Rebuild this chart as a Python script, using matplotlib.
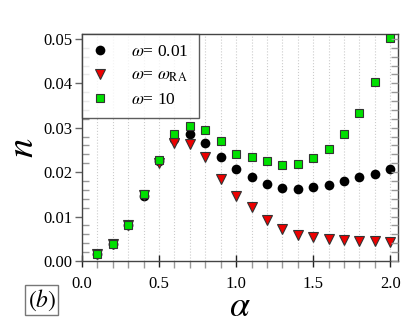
import numpy as np
import matplotlib
matplotlib.use("Agg")
import matplotlib.pyplot as plt
from matplotlib.ticker import MultipleLocator, FormatStrFormatter

plt.rcParams['font.family'] = ['Liberation Serif', 'DejaVu Serif']
plt.rcParams['mathtext.fontset'] = 'stix'

alpha = [0.1, 0.2, 0.3, 0.4, 0.5, 0.6, 0.7, 0.8, 0.9, 1.0,
         1.1, 1.2, 1.3, 1.4, 1.5, 1.6, 1.7, 1.8, 1.9, 2.0]
n_w001 = [0.0015, 0.0039, 0.0081, 0.0146, 0.0225, 0.0274, 0.0286, 0.0266, 0.0234, 0.0206,
          0.0190, 0.0173, 0.0165, 0.0163, 0.0166, 0.0171, 0.0179, 0.0189, 0.0196, 0.0207]
n_wRA = [0.0015, 0.0039, 0.0081, 0.0148, 0.0220, 0.0265, 0.0264, 0.0233, 0.0185, 0.0146,
         0.0122, 0.0092, 0.0072, 0.0059, 0.0053, 0.0049, 0.0047, 0.0044, 0.0044, 0.0043]
n_w10 = [0.0015, 0.0039, 0.0081, 0.0150, 0.0228, 0.0286, 0.0304, 0.0296, 0.0270, 0.0241,
         0.0234, 0.0224, 0.0215, 0.0219, 0.0232, 0.0253, 0.0287, 0.0334, 0.0403, 0.0501]
labels = [r'$\omega$= 0.01', r'$\omega$= $\omega_{\rm RA}$', r'$\omega$= 10']

fig = plt.figure(figsize=(4.15, 3.26), dpi=100)
ax = fig.add_axes([0.1976, 0.1994, 0.959 - 0.1976, 0.8957 - 0.1994])

ax.set_xlim(0, 2.05)
ax.set_ylim(0, 0.0511)

ax.plot(alpha, n_w001, 'o', color='black', markersize=7, markeredgewidth=0, label=labels[0], zorder=3)
ax.plot(alpha, n_wRA, 'v', color='#ee0000', markeredgecolor='#333333', markeredgewidth=0.8,
        markersize=6.5, label=labels[1], zorder=4)
ax.plot(alpha, n_w10, 's', color='#00e000', markeredgecolor='#333333', markeredgewidth=0.8,
        markersize=6, label=labels[2], zorder=5)

ax.xaxis.set_major_locator(MultipleLocator(0.5))
ax.xaxis.set_minor_locator(MultipleLocator(0.1))
ax.yaxis.set_major_locator(MultipleLocator(0.01))
ax.yaxis.set_minor_locator(MultipleLocator(0.002))
ax.xaxis.set_major_formatter(FormatStrFormatter('%.1f'))
ax.yaxis.set_major_formatter(FormatStrFormatter('%.2f'))

ax.grid(True, axis='x', which='both', linestyle=':', color='#cccccc', linewidth=0.8)
ax.set_axisbelow(True)

for s in ax.spines.values():
    s.set_color('#444444')
    s.set_linewidth(1.0)

ax.tick_params(axis='x', which='major', direction='inout', length=9, width=1.0,
               color='#222222', labelsize=12, pad=6)
ax.tick_params(axis='x', which='minor', direction='out', length=5, width=1.0, color='#999999')
ax.tick_params(axis='y', which='major', direction='out', length=5, width=1.0,
               color='#666666', labelsize=12, pad=2)
ax.tick_params(axis='y', which='minor', direction='in', length=5, width=1.0, color='#999999')

ax2 = ax.twinx()
ax2.set_ylim(ax.get_ylim())
ax2.yaxis.set_major_locator(MultipleLocator(0.01))
ax2.yaxis.set_minor_locator(MultipleLocator(0.002))
ax2.tick_params(axis='y', which='both', direction='in', length=5, width=1.0,
                color='#999999', labelright=False)
for s in ax2.spines.values():
    s.set_visible(False)

fig.text(0.578, 0.056, r'$\alpha$', fontsize=26, ha='center', va='center')
ax.set_ylabel(r'$n$', fontsize=28, labelpad=1)

leg = ax.legend(loc='upper left', borderaxespad=0, fontsize=12.5, frameon=True,
                fancybox=False, edgecolor='#333333', handlelength=1.0,
                handletextpad=1.3, borderpad=0.55, labelspacing=0.45)
leg.get_frame().set_linewidth(1.0)
leg.set_zorder(10)

fig.text(0.101, 0.08, r'$(b)$', fontsize=17, ha='center', va='center',
         bbox=dict(boxstyle='square,pad=0.1', facecolor='white', edgecolor='#777777', linewidth=1.0))

fig.savefig('out.png', dpi=100)
